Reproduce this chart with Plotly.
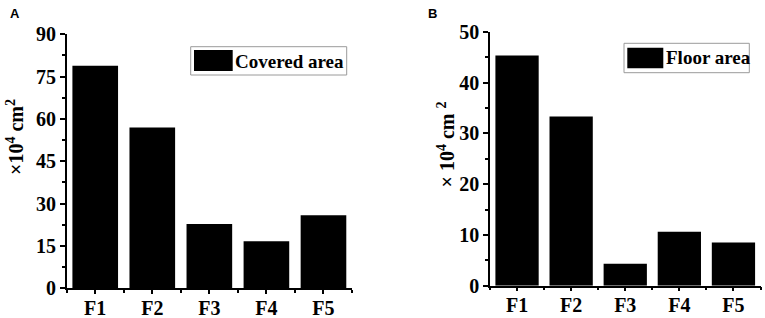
import plotly.graph_objects as go
from plotly.subplots import make_subplots

categories = ["F1", "F2", "F3", "F4", "F5"]
covered_area = [78.9, 57.0, 22.8, 16.7, 25.9]
floor_area = [45.3, 33.3, 4.3, 10.6, 8.5]
ticks_a = [0, 15, 30, 45, 60, 75, 90]
ticks_b = [0, 10, 20, 30, 40, 50]

W, H = 765, 318
SERIF = "Liberation Serif, Times New Roman, serif"
SANS = "Liberation Sans, Arial, sans-serif"


def px(x):
    return x / W


def py(y):
    return 1 - y / H


fig = make_subplots(rows=1, cols=2)
xpos = list(range(len(categories)))

fig.add_trace(go.Bar(x=xpos, y=covered_area, name="Covered area",
                     marker=dict(color="black", line=dict(width=0)),
                     showlegend=False), row=1, col=1)
fig.add_trace(go.Bar(x=xpos, y=floor_area, name="Floor area",
                     marker=dict(color="black", line=dict(width=0)),
                     showlegend=False), row=1, col=2)

axis_common = dict(showline=True, linecolor="black", linewidth=1.5,
                   ticks="outside", ticklen=5, tickwidth=1.5, tickcolor="black",
                   showgrid=False, zeroline=False, automargin=False,
                   tickfont=dict(family=SERIF, size=20, color="black", weight="bold"))

xa = dict(axis_common, tickmode="array", tickvals=xpos, ticktext=categories,
          range=[-0.5, len(categories) - 0.5], ticklen=4, ticklabelstandoff=-3,
          minor=dict(tickmode="linear", tick0=0.5, dtick=1, ticks="outside",
                     ticklen=3, tickwidth=1.5, tickcolor="black"))

fig.update_layout(
    width=W, height=H,
    margin=dict(l=0, r=0, t=0, b=0, autoexpand=False),
    paper_bgcolor="white", plot_bgcolor="white",
    bargap=0.2,
    xaxis=dict(xa, domain=[px(66.7), px(352)]),
    xaxis2=dict(xa, domain=[px(490), px(760.5)]),
    yaxis=dict(axis_common, range=[0, 90], tickmode="array", tickvals=ticks_a,
               domain=[py(288.3), py(34.3)],
               minor=dict(tickmode="linear", tick0=0, dtick=7.5, ticks="outside",
                          ticklen=3, tickwidth=1.5, tickcolor="black")),
    yaxis2=dict(axis_common, range=[0, 50], tickmode="array", tickvals=ticks_b,
                domain=[py(285.7), py(31.7)],
                minor=dict(tickmode="linear", tick0=0, dtick=5, ticks="outside",
                           ticklen=3, tickwidth=1.5, tickcolor="black")),
)

shapes = []
annotations = []

# Manual legends (box + swatch + label)
legends = [
    dict(box=(190.7, 46.7, 346.7, 75), sw=(194, 50, 232.7, 71), text="Covered area", ty=61),
    dict(box=(624, 43.3, 749.3, 72.7), sw=(627.3, 47.7, 663.3, 68.3), text="Floor area", ty=58),
]
for lg in legends:
    x0, y0, x1, y1 = lg["box"]
    shapes.append(dict(type="rect", xref="paper", yref="paper",
                       x0=px(x0), x1=px(x1), y0=py(y1), y1=py(y0),
                       line=dict(color="#9a9a9a", width=1), fillcolor="white"))
    x0, y0, x1, y1 = lg["sw"]
    shapes.append(dict(type="rect", xref="paper", yref="paper",
                       x0=px(x0), x1=px(x1), y0=py(y1), y1=py(y0),
                       line=dict(width=0), fillcolor="black"))
    annotations.append(dict(xref="paper", yref="paper", x=px(x1 + 0.3), y=py(lg["ty"]),
                            xanchor="left", yanchor="middle", showarrow=False,
                            text=lg["text"],
                            font=dict(family=SERIF, size=19, color="black", weight="bold")))

# Y-axis titles
annotations.append(dict(xref="paper", yref="paper", x=px(15), y=py(137),
                        xanchor="center", yanchor="middle", showarrow=False, textangle=-90,
                        text="×10<sup>4</sup> cm<sup>2</sup>",
                        font=dict(family=SERIF, size=20, color="black", weight="bold")))
annotations.append(dict(xref="paper", yref="paper", x=px(445.5), y=py(145),
                        xanchor="center", yanchor="middle", showarrow=False, textangle=-90,
                        text="× 10<sup>4</sup> cm <sup>2</sup>",
                        font=dict(family=SERIF, size=20, color="black", weight="bold")))

# Panel labels
annotations.append(dict(xref="paper", yref="paper", x=px(8), y=py(14),
                        xanchor="left", yanchor="middle", showarrow=False, text="A",
                        font=dict(family=SANS, size=13, color="black", weight="bold")))
annotations.append(dict(xref="paper", yref="paper", x=px(426), y=py(14),
                        xanchor="left", yanchor="middle", showarrow=False, text="B",
                        font=dict(family=SANS, size=13, color="black", weight="bold")))

fig.update_layout(shapes=shapes, annotations=annotations)

fig.write_html(
    "out.html",
    config={"displayModeBar": False},
    post_script="document.body.style.margin='0';document.body.style.overflow='hidden';",
)
